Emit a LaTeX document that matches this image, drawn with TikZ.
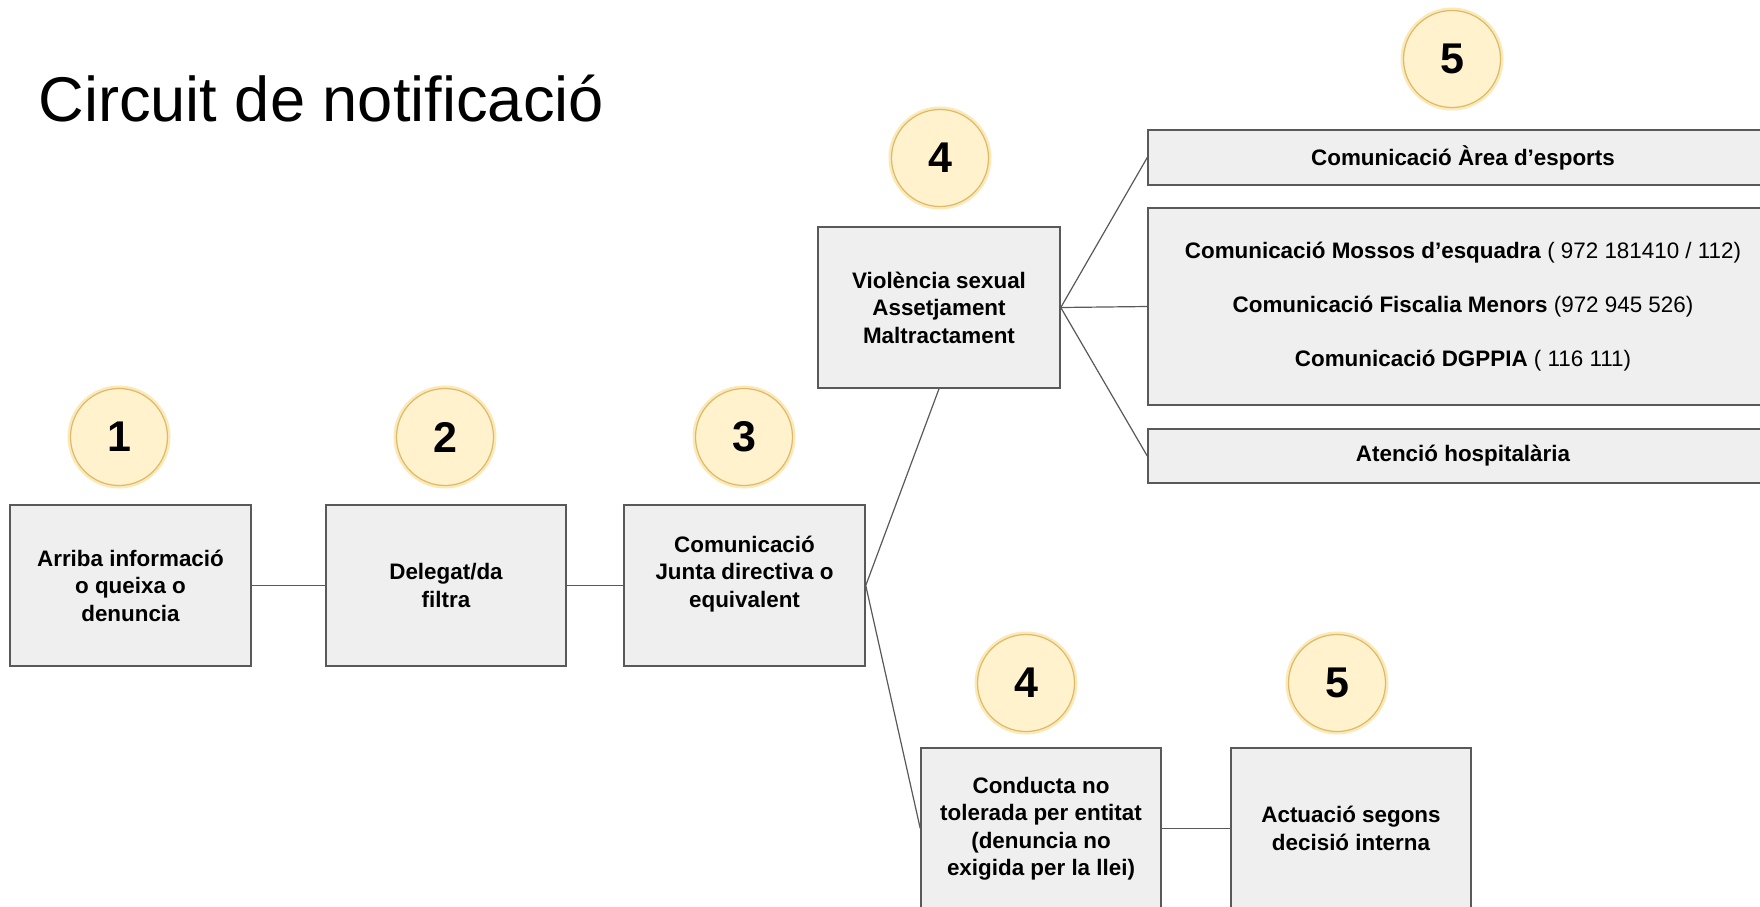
\documentclass[tikz,border=0pt]{standalone}
\usepackage{fontspec}
\setmainfont{Liberation Sans}
\definecolor{boxfill}{HTML}{EFEFEF}
\definecolor{boxline}{HTML}{595959}
\definecolor{circfill}{HTML}{FFF2CC}
\definecolor{circline}{HTML}{DDB96A}
\definecolor{glowc}{HTML}{FCE9B8}
\begin{document}
\begin{tikzpicture}[x=0.5pt,y=-0.5pt,
  stepbox/.style={draw=boxline, fill=boxfill, line width=0.75pt, align=center,
    inner sep=0pt, font=\bfseries\fontsize{11.2}{13.75}\selectfont},
  wbox/.style={stepbox, minimum width=315pt},
  numc/.style={circle, draw=circline, fill=circfill, line width=0.6pt,
    minimum size=48.5pt, inner sep=0pt, font=\bfseries\fontsize{21.5}{24}\selectfont,
    preaction={draw=glowc, line width=3pt}},
  conn/.style={draw=boxline, line width=0.6pt}]
\clip (0,0) rectangle (1760,906);
\fill[white] (0,0) rectangle (1760,906);

\node[anchor=base west, inner sep=0pt, font=\fontsize{31.6}{38}\selectfont] (title) at (38,121) {Circuit de notificació};

% step boxes
\node[stepbox, minimum width=120.5pt, minimum height=80.5pt] (b1) at (130.5,585.5) {Arriba informació\\o queixa o\\denuncia};
\node[stepbox, minimum width=120pt, minimum height=80.5pt] (b2) at (446,585.5) {Delegat/da\\filtra};
\node[stepbox, minimum width=120.5pt, minimum height=80.5pt] (b3) at (744.5,585.5) {Comunicació\\Junta directiva o\\equivalent\\~};
\node[stepbox, minimum width=121pt, minimum height=80.5pt] (vio) at (939,307.5) {Violència sexual\\Assetjament\\Maltractament};
\node[stepbox, minimum width=120pt, minimum height=80.5pt] (cond) at (1041,828.5) {Conducta no\\tolerada per entitat\\(denuncia no\\exigida per la llei)};
\node[stepbox, minimum width=120pt, minimum height=80.5pt] (act) at (1351,828.5) {Actuació segons\\decisió interna};

\node[wbox, minimum height=27.5pt] (area) at (1463,157.5) {Comunicació Àrea d’esports};
\node[wbox, minimum height=98.5pt, font=\fontsize{11.2}{27}\selectfont] (big) at (1463,306.5)
  {\textbf{Comunicació Mossos d’esquadra} ( 972 181410 / 112)\\
   \textbf{Comunicació Fiscalia Menors} (972 945 526)\\
   \textbf{Comunicació DGPPIA} ( 116 111)};
\node[wbox, minimum height=27pt] (hosp) at (1463,456) {Atenció hospitalària};

% number circles
\node[numc] (n1) at (119,437) {1};
\node[numc] (n2) at (445,437) {2};
\node[numc] (n3) at (744,437) {3};
\node[numc] (n4a) at (940,158) {4};
\node[numc] (n5a) at (1452,59) {5};
\node[numc] (n4b) at (1026,683) {4};
\node[numc] (n5b) at (1337,683) {5};

% connectors
\draw[conn] (b1.east) -- (b2.west);
\draw[conn] (b2.east) -- (b3.west);
\draw[conn] (b3.east) -- (vio.south);
\draw[conn] (b3.east) -- (cond.west);
\draw[conn] (vio.east) -- (area.west);
\draw[conn] (vio.east) -- (big.west);
\draw[conn] (vio.east) -- (hosp.west);
\draw[conn] (cond.east) -- (act.west);
\end{tikzpicture}
\end{document}
